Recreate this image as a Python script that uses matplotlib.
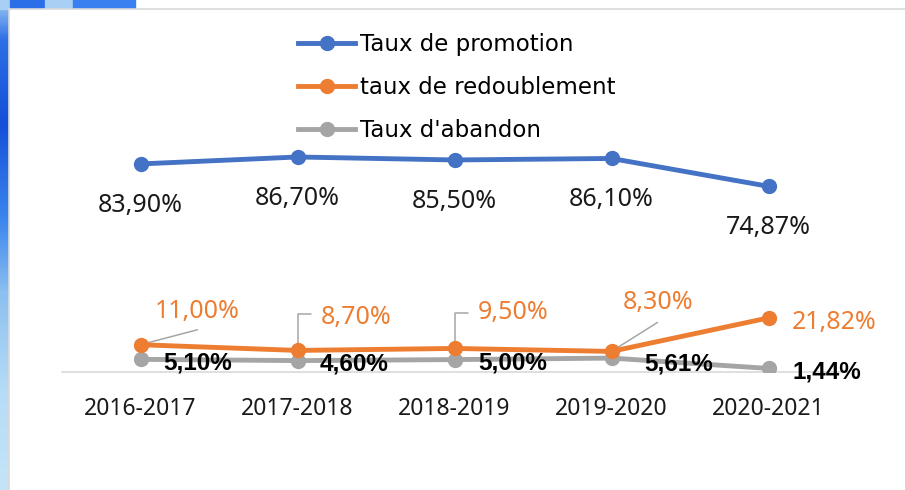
import matplotlib.pyplot as plt
import numpy as np
from matplotlib.patches import Rectangle
from matplotlib.colors import LinearSegmentedColormap
from matplotlib.lines import Line2D

annees = ['2016-2017', '2017-2018', '2018-2019', '2019-2020', '2020-2021']
promotion = [83.90, 86.70, 85.50, 86.10, 74.87]
redoublement = [11.00, 8.70, 9.50, 8.30, 21.82]
abandon = [5.10, 4.60, 5.00, 5.61, 1.44]

BLEU = '#4472C4'
ORANGE = '#ED7D31'
GRIS = '#A5A5A5'


def fmt(v):
    return f'{v:.2f}'.replace('.', ',') + '%'


fig = plt.figure(figsize=(9.05, 4.9), dpi=100)

# fond decoratif (bord gauche bleu)
bg = fig.add_axes([0, 0, 1, 1])
bg.set_xlim(0, 905)
bg.set_ylim(490, 0)
bg.axis('off')
cmap = LinearSegmentedColormap.from_list('bord', [
    (0.0, '#9cc8f2'), (0.08, '#2d6fe6'), (0.25, '#1450d8'), (0.45, '#3c86ee'),
    (0.6, '#8cc0f0'), (0.8, '#b6dcf6'), (1.0, '#c4e4f8')])
grad = np.linspace(0, 1, 200).reshape(-1, 1)
bg.imshow(grad, cmap=cmap, extent=(0, 9, 490, 0), aspect='auto', zorder=1)
bg.add_patch(Rectangle((0, 0), 10, 9, color='#a8d0f5', zorder=1))
bg.add_patch(Rectangle((10, 0), 35, 9, color='#2a6ee8', zorder=1))
bg.add_patch(Rectangle((45, 0), 28, 9, color='#a8d0f5', zorder=1))
bg.add_patch(Rectangle((73, 0), 62, 9, color='#3a80f0', zorder=1))
bg.add_patch(Rectangle((9, 9), 900, 485, facecolor='white', edgecolor='#d9d9d9', lw=1.2, zorder=2))

ax = fig.add_axes([62 / 905, 118 / 490, 785 / 905, 248 / 490])
ax.patch.set_alpha(0)
x = np.arange(len(annees))

l1, = ax.plot(x, promotion, color=BLEU, lw=3.5, marker='o', ms=10, solid_capstyle='round', zorder=5)
l3, = ax.plot(x, abandon, color=GRIS, lw=3.5, marker='o', ms=10, solid_capstyle='round', zorder=4)
l2, = ax.plot(x, redoublement, color=ORANGE, lw=3.5, marker='o', ms=10, solid_capstyle='round', zorder=5)

ax.set_xlim(-0.5, 4.5)
ax.set_ylim(0, 100)
ax.set_yticks([])
ax.set_xticks(x)
ax.set_xticklabels(annees, fontsize=16.5, family='Noto Sans', color='#1a1a1a')
ax.tick_params(axis='x', length=0, pad=18)
for s in ['top', 'right', 'left']:
    ax.spines[s].set_visible(False)
ax.spines['bottom'].set_color('#d9d9d9')
ax.spines['bottom'].set_linewidth(1.2)

# etiquettes taux de promotion
for i, v in enumerate(promotion):
    ax.annotate(fmt(v), (x[i], v), xytext=(0, -48), textcoords='offset pixels',
                ha='center', va='baseline', fontsize=18, family='Noto Sans', color='#1a1a1a')

# etiquettes redoublement avec traits de rappel
off_r = [(57, 27), (59, 26), (59, 29), (47, 42), (66, -11)]
for i, v in enumerate(redoublement):
    ax.annotate(fmt(v), (x[i], v), xytext=off_r[i], textcoords='offset pixels',
                ha='center', va='baseline', fontsize=18, family='Noto Sans', color=ORANGE, zorder=6)

lead = dict(arrowstyle='-', color='#a6a6a6', lw=1.1, shrinkA=0, shrinkB=0)
ax.annotate('', (x[0], redoublement[0]), xytext=(57, 15), textcoords='offset pixels', arrowprops=lead)
ax.annotate('', (x[3], redoublement[3]), xytext=(46, 29), textcoords='offset pixels', arrowprops=lead)
coude = dict(lead, connectionstyle='angle,angleA=0,angleB=90,rad=0')
ax.annotate('', (x[1], redoublement[1]), xytext=(13, 36), textcoords='offset pixels', arrowprops=coude)
ax.annotate('', (x[2], redoublement[2]), xytext=(13, 35), textcoords='offset pixels', arrowprops=coude)

# etiquettes abandon
off_a = [(57, -10), (57, -10), (58, -10), (67, -12), (58, -10)]
for i, v in enumerate(abandon):
    ax.annotate(fmt(v), (x[i], v), xytext=off_a[i], textcoords='offset pixels',
                ha='center', va='baseline', fontsize=17.5, family='Liberation Sans',
                fontweight='bold', color='black', zorder=6)

handles = [Line2D([], [], color=c, lw=3.5, marker='o', ms=10) for c in (BLEU, ORANGE, GRIS)]
fig.legend(handles, ['Taux de promotion', 'taux de redoublement', "Taux d'abandon"],
           loc='upper left', bbox_to_anchor=(298 / 905, 1 - 33 / 490), frameon=False,
           prop={'family': 'DejaVu Sans', 'size': 16.5}, handlelength=2.5,
           handletextpad=0.2, labelspacing=0.88, borderpad=0, borderaxespad=0)

fig.savefig('out.png', dpi=100)
